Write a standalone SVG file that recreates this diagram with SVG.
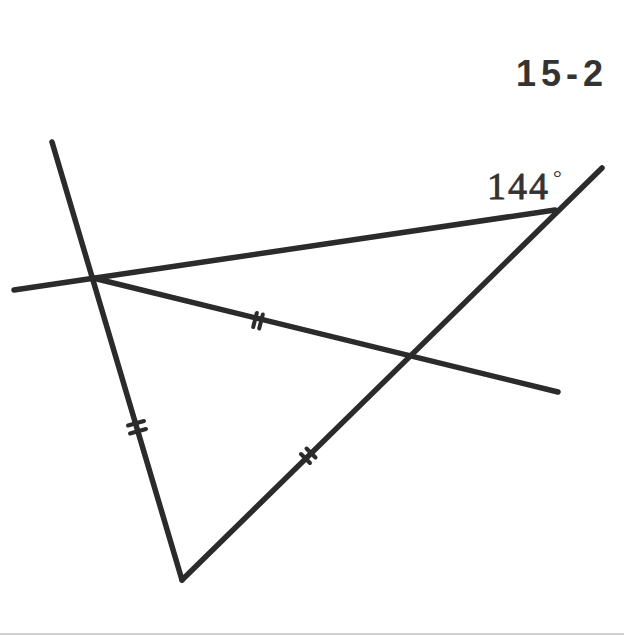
<svg xmlns="http://www.w3.org/2000/svg" width="624" height="635" viewBox="0 0 624 635">
<style>
.ln{stroke:#2b2b2b;stroke-width:5.5;stroke-linecap:round;fill:none}
.tk{stroke:#2b2b2b;stroke-width:4;stroke-linecap:round;fill:none}
</style>
<rect width="624" height="635" fill="#ffffff"/>
<rect x="0" y="633" width="624" height="2" fill="#cfcfcf"/>
<g id="connectors">
<line class="ln" x1="52" y1="142" x2="182" y2="580"/>
<line class="ln" x1="14" y1="290" x2="555" y2="210"/>
<line class="ln" x1="93" y1="278" x2="558" y2="392"/>
<line class="ln" x1="182" y1="580" x2="602" y2="168"/>
</g>
<g id="ticks">
<line class="tk" x1="256.8" y1="313" x2="253.2" y2="327"/>
<line class="tk" x1="262.8" y1="314.5" x2="259.2" y2="328.5"/>
<line class="tk" x1="128" y1="425.5" x2="144" y2="421"/>
<line class="tk" x1="130" y1="433.5" x2="146" y2="429"/>
<line class="tk" x1="301" y1="454" x2="310" y2="463"/>
<line class="tk" x1="306.5" y1="448.5" x2="315.5" y2="457.5"/>
</g>
<g id="label-angle">
<text x="487" y="199" font-family="Liberation Serif, serif" font-size="38" letter-spacing="2" fill="#333" stroke="#333" stroke-width="0.8">144</text>
<text x="553" y="185" font-family="Liberation Serif, serif" font-size="22" fill="#333">°</text>
</g>
<g id="label-title">
<text x="516" y="86" font-family="Liberation Sans, Arial, sans-serif" font-weight="bold" font-size="36" letter-spacing="5" fill="#333">15-2</text>
</g>
</svg>
